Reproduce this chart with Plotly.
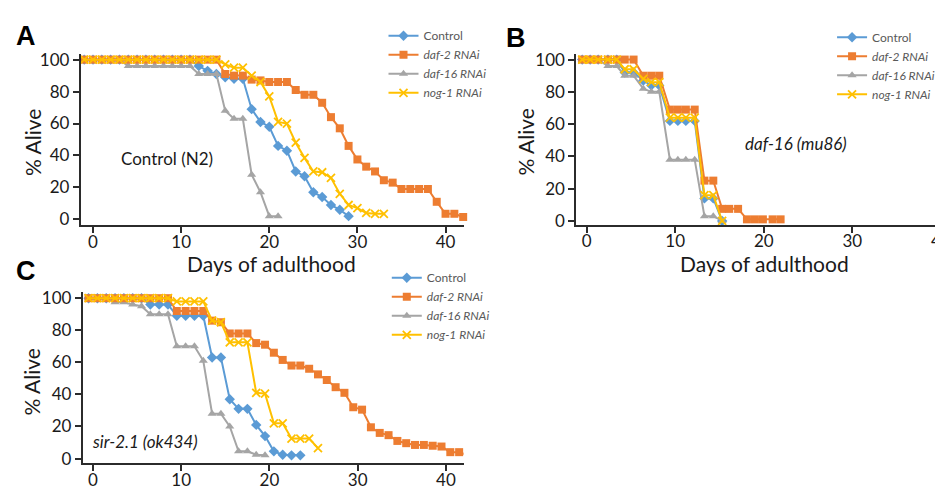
import plotly.graph_objects as go

# ---------------- data ----------------
series_names = ["Control", "daf-2 RNAi", "daf-16 RNAi", "nog-1 RNAi"]
colors = ["#5B9BD5", "#ED7D31", "#A5A5A5", "#FFC000"]

# Panel A : Control (N2)
days_A = [-1, 0, 1, 2, 3, 4, 5, 6, 7, 8, 9, 10, 11, 12, 13, 14, 15, 16, 17, 18, 19, 20,
          21, 22, 23, 24, 25, 26, 27, 28, 29, 30, 31, 32, 33, 34, 35, 36, 37, 38, 39, 40, 41, 42]
ctrl_A = [100, 100, 100, 100, 100, 100, 100, 100, 100, 100, 100, 100, 100, 96, 93, 91, 89, 88,
          88, 69, 61, 58, 46, 43, 30, 27, 17, 14, 9, 6, 2]
daf2_A = [100, 100, 100, 100, 100, 100, 100, 100, 100, 100, 100, 100, 100, 100, 100, 100, 91, 90,
          90, 87.5, 87, 86, 86, 86, 81, 78, 78, 73, 64, 57, 46, 37.5, 33, 30, 24.5, 23, 19, 19,
          19, 19, 11, 3.5, 3.5, 1.5]
daf16_A = [100, 100, 100, 100, 100, 96, 96, 96, 96, 96, 96, 96, 96, 91, 91, 91, 68, 63, 63, 28,
           17, 2, 2]
nog1_A = [100, 100, 100, 100, 100, 100, 100, 100, 100, 100, 100, 100, 100, 100, 100, 100, 97, 95,
          95, 90, 86, 77, 61, 60, 48, 38.5, 30, 29.5, 26, 16, 9, 7, 4, 3.5, 3.5]

# Panel B : daf-16 (mu86)
days_B = [-0.5, 0.4, 1.3, 2.4, 3.4, 4.3, 5.3, 6.4, 7.3, 8.2, 9.4, 10.3, 11.2, 12.2, 13.3, 14.3,
          15.3, 16.1, 17.1, 18.1, 19.0, 19.9, 21.0, 21.9]
ctrl_B = [100, 100, 100, 100, 100, 92, 92, 87, 84, 84, 62, 62, 62, 62, 14, 14, 0]
daf2_B = [100, 100, 100, 100, 100, 100, 100, 90, 90, 90, 69, 69, 69, 69, 25, 25, 7.5, 7.5, 7.5,
          1, 1, 1, 1, 1]
daf16_B = [100, 100, 100, 96, 96, 90, 90, 82, 80, 80, 38, 38, 38, 38, 3, 3, 0]
nog1_B = [100, 100, 100, 100, 100, 94, 94, 88, 86, 86, 64, 64, 64, 64, 16, 16, 0]

# Panel C : sir-2.1 (ok434)
days_C = [-0.5, 0.5, 1.5, 2.5, 3.5, 4.5, 5.5, 6.5, 7.5, 8.5, 9.5, 10.5, 11.5, 12.5, 13.5, 14.5,
          15.5, 16.5, 17.5, 18.5, 19.5, 20.5, 21.5, 22.5, 23.5, 24.5, 25.5, 26.5, 27.5, 28.5,
          29.5, 30.5, 31.5, 32.5, 33.5, 34.5, 35.5, 36.5, 37.5, 38.5, 39.5, 40.5, 41.5, 42.5]
ctrl_C = [100, 100, 100, 100, 100, 100, 100, 96, 96, 96, 89, 89, 89, 89, 63, 63, 37, 31, 31, 21,
          14, 4.5, 2.4, 2, 2]
daf2_C = [100, 100, 100, 100, 100, 100, 100, 100, 100, 100, 92, 92, 92, 92, 86, 85, 78, 78, 78,
          72, 71, 66, 61.5, 58, 58, 56, 52.5, 49, 44.5, 41, 32, 30.5, 19.5, 16, 14.6, 11, 9.6,
          8.5, 8.5, 8, 7.5, 4, 4, 2]
daf16_C = [100, 100, 100, 97.5, 97.5, 96, 95, 90, 90, 90, 70, 70, 70, 61, 28, 28, 20, 4.5, 4.5,
           2.4, 2]
nog1_C = [100, 100, 100, 100, 100, 100, 100, 100, 100, 100, 98, 98, 98, 98, 86, 85, 72.5, 72.5,
          72.5, 41, 40.5, 22, 22, 12.5, 12.5, 12.5, 6.5]

x_ticks = [0, 10, 20, 30, 40]
y_ticks = [0, 20, 40, 60, 80, 100]

panel_labels = ["A", "B", "C"]
strain_labels = ["Control (N2)", "<i>daf-16 (mu86)</i>", "<i>sir-2.1 (ok434)</i>"]
x_title = "Days of adulthood"
y_title = "% Alive"

# ---------------- figure ----------------
W, H = 943, 491
FONT = "Lato"
AXC = "#2b2b2b"


def fx(p):
    return p / W


def fy(p):
    return 1 - p / H


symbols = ["diamond", "square", "triangle-up", "x-thin"]
sizes = [8, 8, 8, 8]
legend_text = ["Control", "<i>daf-2 RNAi</i>", "<i>daf-16 RNAi</i>", "<i>nog-1 RNAi</i>"]
draw_order = [0, 2, 1, 3]

panels = [
    (days_A, [ctrl_A, daf2_A, daf16_A, nog1_A], "x", "y", "legend"),
    (days_B, [ctrl_B, daf2_B, daf16_B, nog1_B], "x2", "y2", "legend2"),
    (days_C, [ctrl_C, daf2_C, daf16_C, nog1_C], "x3", "y3", "legend3"),
]

fig = go.Figure()
for days, vals, xa, ya, lg in panels:
    for i in draw_order:
        v = vals[i]
        sym = symbols[i]
        marker = dict(symbol=sym, size=sizes[i], color=colors[i],
                      line=dict(width=1.8 if sym == "x-thin" else 0, color=colors[i]))
        fig.add_trace(go.Scatter(
            x=days[:len(v)], y=v, mode="lines+markers", name=legend_text[i],
            line=dict(color=colors[i], width=2), marker=marker,
            xaxis=xa, yaxis=ya, legend=lg, legendrank=i + 1, cliponaxis=False,
        ))

axis_common = dict(showline=True, linecolor=AXC, linewidth=1.8, ticks="outside", ticklen=6,
                   tickwidth=1.8, tickcolor=AXC, showgrid=False, zeroline=False,
                   tickfont=dict(family=FONT, size=17, color="#1a1a1a"))
xax = dict(axis_common, tickvals=x_ticks, ticklabelstandoff=-6, ticklabeloverflow="allow")
yax = dict(axis_common, tickvals=y_ticks)

fig.update_layout(
    width=W, height=H, margin=dict(l=0, r=0, t=0, b=0),
    paper_bgcolor="white", plot_bgcolor="white",
    xaxis=dict(xax, domain=[fx(73), fx(457.5)], range=[-1.39, 42.1], anchor="y"),
    yaxis=dict(yax, domain=[fy(217.3), fy(42)], range=[-3.8, 103.5], anchor="x"),
    xaxis2=dict(xax, domain=[fx(570), 1.0], range=[-1.18, 40.8], anchor="y2"),
    yaxis2=dict(yax, domain=[fy(216.7), fy(41.7)], range=[-2.4, 103.6], anchor="x2"),
    xaxis3=dict(xax, domain=[fx(75), fx(457)], range=[-1.16, 42.0], anchor="y3"),
    yaxis3=dict(yax, domain=[fy(460.7), fy(285)], range=[-3.0, 104.1], anchor="x3"),
    showlegend=True,
)

leg_common = dict(font=dict(family=FONT, size=12, color="#595959"), bgcolor="rgba(0,0,0,0)",
                  tracegroupgap=0, itemwidth=30, xanchor="left", yanchor="top", traceorder="normal")
fig.update_layout(
    legend=dict(x=fx(376.7), y=fy(8.5), **leg_common),
    legend2=dict(x=fx(826.7), y=fy(10), **leg_common),
    legend3=dict(x=fx(380), y=fy(256), **leg_common),
)

ann = []
# panel letters
for lab, (px, py) in zip(panel_labels, [(18, 24), (510, 26), (18, 264)]):
    ann.append(dict(text="<b>%s</b>" % lab, x=fx(px), y=fy(py), xref="paper", yref="paper",
                    showarrow=False, xanchor="center", yanchor="middle",
                    font=dict(family="Liberation Sans", size=27, color="black")))
# strain labels
for lab, (px, py) in zip(strain_labels, [(160, 149), (791, 133), (137, 438)]):
    ann.append(dict(text=lab, x=fx(px), y=fy(py), xref="paper", yref="paper", showarrow=False,
                    xanchor="center", yanchor="middle", font=dict(family=FONT, size=17, color="#1a1a1a")))
# y titles
for (px, py) in [(24, 132), (519, 132), (24, 377)]:
    ann.append(dict(text=y_title, x=fx(px), y=fy(py), xref="paper", yref="paper", showarrow=False,
                    textangle=-90, xanchor="center", yanchor="middle",
                    font=dict(family=FONT, size=21, color="#1a1a1a")))
# x titles
for (px, py) in [(264, 256), (759, 256)]:
    ann.append(dict(text=x_title, x=fx(px), y=fy(py), xref="paper", yref="paper", showarrow=False,
                    xanchor="center", yanchor="middle", font=dict(family=FONT, size=21, color="#1a1a1a")))
fig.update_layout(annotations=ann)

fig.write_html("out.html")
